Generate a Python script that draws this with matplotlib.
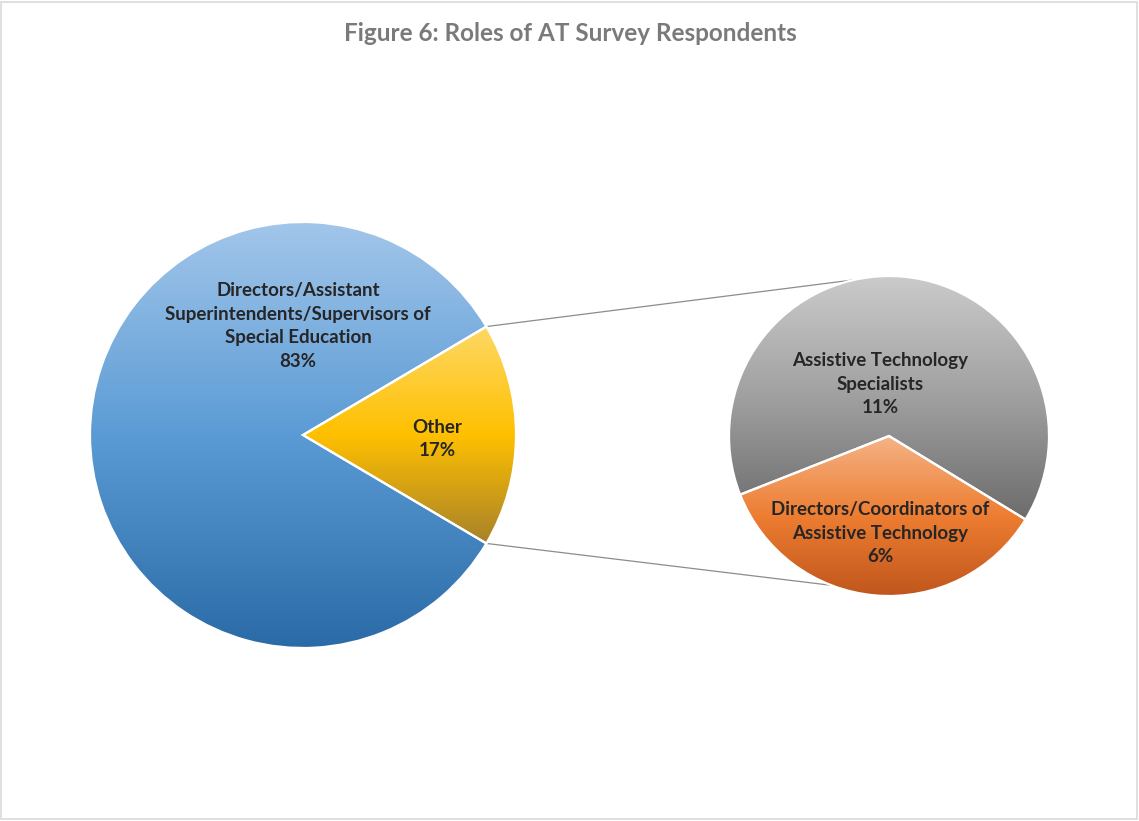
import numpy as np
import matplotlib.pyplot as plt
from matplotlib.colors import LinearSegmentedColormap
from matplotlib.patches import Rectangle

W, H = 1139, 821

# main pie: "Other" is split out into the secondary pie
main_labels = ['Other\n17%',
               'Directors/Assistant\nSuperintendents/Supervisors of\nSpecial Education\n83%']
main_values = [17, 83]
main_colors = [['#a8822a', '#ffc000', '#fdd866'],
               ['#2a6aa6', '#5b9bd5', '#a2c6ea']]

# secondary pie: breakdown of "Other"
sub_labels = ['Directors/Coordinators of\nAssistive Technology\n6%',
              'Assistive Technology\nSpecialists\n11%']
sub_values = [6, 11]
sub_colors = [['#c0561c', '#ed7d31', '#f5b386'],
              ['#6c6c6c', '#a0a0a0', '#cbcbcb']]

title = 'Figure 6: Roles of AT Survey Respondents'

# layout in pixels (y measured from the top)
main_c, main_r = (303, 435), 213
sub_c, sub_r = (889, 436), 160


def to_data(p):
    return (p[0], H - p[1])


def gradient_fill(ax, wedge, stops, z):
    x0, y0, x1, y1 = wedge.get_path().get_extents().extents
    cmap = LinearSegmentedColormap.from_list('g', stops)
    grad = np.linspace(0, 1, 256)[:, None]
    im = ax.imshow(grad, cmap=cmap, origin='lower', extent=(x0, x1, y0, y1),
                   aspect='auto', interpolation='bilinear', zorder=z)
    im.set_clip_path(wedge)
    wedge.set_facecolor('none')
    wedge.set_zorder(z + 0.5)


fig = plt.figure(figsize=(W / 100, H / 100), dpi=100)
ax = fig.add_axes([0, 0, 1, 1])

start_main = -main_values[0] / sum(main_values) * 360 / 2
wm, _ = ax.pie(main_values, startangle=start_main, center=to_data(main_c),
               radius=main_r, counterclock=True,
               wedgeprops=dict(edgecolor='white', linewidth=1.6))
for w, c in zip(wm, main_colors):
    gradient_fill(ax, w, c, 2)

ws, _ = ax.pie(sub_values, startangle=201.5, center=to_data(sub_c),
               radius=sub_r, counterclock=True,
               wedgeprops=dict(edgecolor='white', linewidth=1.6))
for w, c in zip(ws, sub_colors):
    gradient_fill(ax, w, c, 4)

# connector lines from the split slice to the secondary pie
a = np.deg2rad(-start_main)
mx, my = to_data(main_c)
sx, sy = to_data(sub_c)
for sgn, ang in [(1, 102.5), (-1, 249)]:
    p0 = (mx + main_r * np.cos(a), my + sgn * main_r * np.sin(a))
    t = np.deg2rad(ang)
    p1 = (sx + sub_r * np.cos(t), sy + sub_r * np.sin(t))
    ax.plot([p0[0], p1[0]], [p0[1], p1[1]], color='#8c8c8c', lw=0.9, zorder=1)

font = ['Lato', 'DejaVu Sans']
lab_kw = dict(ha='center', va='center', fontsize=13.5, fontweight='bold',
              color='#262626', family=font, linespacing=1.48, zorder=10)
label_pos = [(437, 439), (298, 326), (880, 533), (880, 384)]
for (x, y), t in zip(label_pos, main_labels + sub_labels):
    ax.text(x, H - y, t, **lab_kw)

ax.text(570, H - 33, title, ha='center', va='center', fontsize=17.5,
        fontweight='bold', color='#7a7a7a', family=font)

ax.add_patch(Rectangle((1, 2), 1136, 817, fill=False, edgecolor='#d9d9d9',
                       lw=1.2, zorder=0))

ax.set_xlim(0, W)
ax.set_ylim(0, H)
ax.set_aspect('equal')
ax.axis('off')
fig.savefig('out.png', dpi=100, facecolor='white')
